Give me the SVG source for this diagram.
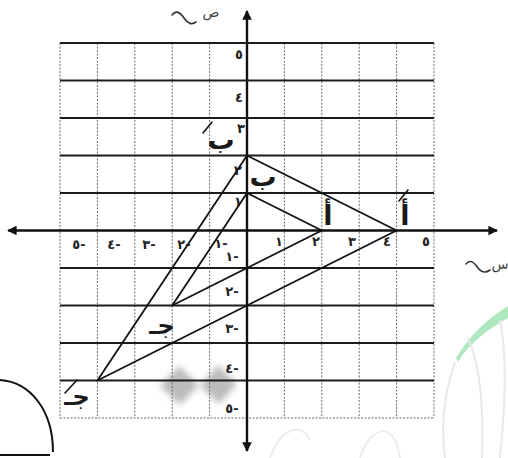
<svg xmlns="http://www.w3.org/2000/svg" width="508" height="458" viewBox="0 0 508 458">
<style>
.h{stroke:#1c1c1c;stroke-width:2.2;fill:none}
.v{stroke:#6a6a6a;stroke-width:1;stroke-dasharray:2 1.5;fill:none}
.ax{stroke:#111;stroke-width:2.4;fill:none}
.tr{stroke:#111;stroke-width:1.8;fill:none;stroke-linecap:round}
.pm{stroke:#111;stroke-width:1.6;fill:none;stroke-linecap:round}
.d{font-family:"DejaVu Sans",sans-serif;font-size:13px;font-weight:bold;fill:#222;text-anchor:middle}
.n{direction:ltr;unicode-bidi:bidi-override}
.l{font-family:"DejaVu Sans",sans-serif;font-size:27px;font-weight:bold;fill:#1a1a1a;text-anchor:middle}
.sc{stroke:#333;stroke-width:1.6;fill:none;stroke-linecap:round}
</style>
<defs>
<marker id="ah" viewBox="0 0 10 10" refX="9" refY="5" markerWidth="4" markerHeight="4" orient="auto-start-reverse">
<path d="M0,0 L10,5 L0,10 z" fill="#111"/>
</marker>
<filter id="bl" x="-50%" y="-50%" width="200%" height="200%"><feGaussianBlur stdDeviation="3"/></filter>
</defs>
<rect width="508" height="458" fill="#fff"/>
<g id="watermark">
<path d="M179,366 L199,385 L180,405 L160,386 Z" fill="#999" opacity="0.65" filter="url(#bl)"/>
<path d="M218,365 L237,384 L219,404 L200,386 Z" fill="#999" opacity="0.65" filter="url(#bl)"/>
<path d="M456,358 C470,335 488,318 508,306 L508,318 C490,328 470,342 458,362 Z" fill="#9be2ae" opacity="0.8"/>
<path d="M455,362 C445,390 440,420 445,458 M468,338 C478,360 484,400 482,458 M500,320 C506,350 506,400 500,458" stroke="#e8e8e8" stroke-width="2" fill="none"/>
<path d="M270,458 C280,430 300,420 310,440 M360,458 C370,425 395,420 400,458" stroke="#ececec" stroke-width="2" fill="none"/>
<path d="M0,380 C30,382 53,410 53,452" stroke="#111" stroke-width="2" fill="none"/>
<path d="M0,455 L50,455" stroke="#111" stroke-width="2.2" fill="none"/>
</g>
<g id="grid">
<path class="v" d="M60,43V418 M97.4,43V418 M134.8,43V418 M172.2,43V418 M209.6,43V418 M284.4,43V418 M321.8,43V418 M359.2,43V418 M396.6,43V418 M434,43V418"/>
<path class="h" d="M60,43H434 M60,80.5H434 M60,118H434 M60,155.5H434 M60,193H434 M60,268H434 M60,305.5H434 M60,343H434 M60,380.5H434"/>
<path class="v" d="M60,418H434"/>
</g>
<g id="axes">
<path class="ax" d="M8,230.5H497" marker-start="url(#ah)" marker-end="url(#ah)"/>
<path class="ax" d="M247,11V451" marker-start="url(#ah)" marker-end="url(#ah)"/>
<path class="sc" d="M172,15 C176,10 180,12 184,18 C188,24 192,25 196,22"/>
<text class="d" x="211" y="17" style="font-size:14px;font-weight:normal;fill:#444">ص</text>
<path class="sc" d="M466,264 C470,259 474,262 478,268 C482,273 486,273 490,270"/>
<text class="d" x="500" y="269" style="font-size:14px;font-weight:normal;fill:#444">س</text>
</g>
<g id="ticks">
<text class="d" x="239" y="59">٥</text>
<text class="d" x="239" y="102">٤</text>
<text class="d" x="241" y="133">٣</text>
<text class="d" x="238" y="175">٢</text>
<text class="d" x="238" y="206">١</text>
<text class="d n" x="232" y="261">١-</text>
<text class="d n" x="232" y="296">٢-</text>
<text class="d n" x="232" y="333">٣-</text>
<text class="d n" x="232" y="373">٤-</text>
<text class="d n" x="232" y="413">٥-</text>
<text class="d" x="279" y="246">١</text>
<text class="d" x="316" y="246">٢</text>
<text class="d" x="352" y="246">٣</text>
<text class="d" x="387" y="246">٤</text>
<text class="d" x="426" y="246">٥</text>
<text class="d n" x="79" y="249">٥-</text>
<text class="d n" x="114" y="249">٤-</text>
<text class="d n" x="149" y="249">٣-</text>
<text class="d n" x="184" y="249">٢-</text>
<text class="d n" x="221" y="248">١-</text>
</g>
<g id="connectors">
<path class="tr" d="M247,193 L321.8,230.5"/>
<path class="tr" d="M247,193 L172.2,305.5"/>
<path class="tr" d="M172.2,305.5 L321.8,230.5"/>
<path class="tr" d="M247,155.5 L396.6,230.5"/>
<path class="tr" d="M247,155.5 L97.4,380.5"/>
<path class="tr" d="M97.4,380.5 L396.6,230.5"/>
</g>
<g id="node-A">
<text class="l" x="328" y="225">أ</text>
</g>
<g id="node-B">
<text class="l" x="263" y="186">ب</text>
</g>
<g id="node-C">
<text class="l" x="162" y="334" style="font-size:24px">جـ</text>
</g>
<g id="node-A2">
<path class="pm" d="M399,201 L408,190"/>
<text class="l" x="405" y="225">أ</text>
</g>
<g id="node-B2">
<path class="pm" d="M203,133 L212,122"/>
<text class="l" x="221" y="149">ب</text>
</g>
<g id="node-C2">
<path class="pm" d="M65,393 L77,380"/>
<text class="l" x="77" y="405" style="font-size:24px">جـ</text>
</g>
</svg>
